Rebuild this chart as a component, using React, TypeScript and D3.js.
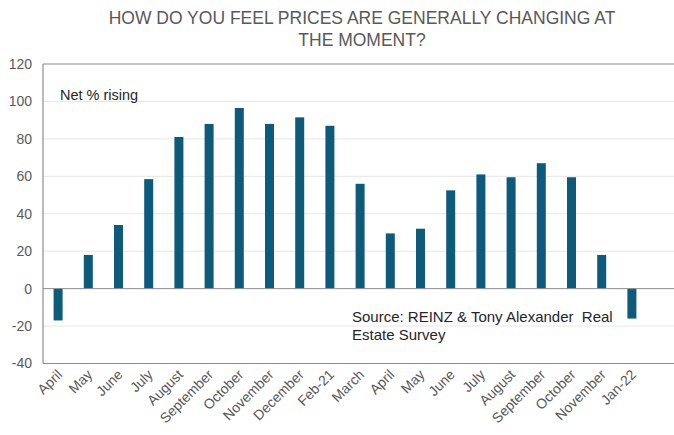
import React from "react";
import * as d3 from "d3";

const categories = ["April","May","June","July","August","September","October","November","December","Feb-21","March","April ","May ","June ","July ","August ","September ","October ","November ","Jan-22"];
const values = [-17, 18, 34, 58.5, 81, 88, 96.5, 88, 91.5, 87, 56, 29.5, 32, 52.5, 61, 59.5, 67, 59.5, 18, -16];
const yTicks = [-40, -20, 0, 20, 40, 60, 80, 100, 120];
const titleLines = ["HOW DO YOU FEEL PRICES ARE GENERALLY CHANGING AT", "THE MOMENT?"];
const noteLabel = "Net % rising";
const sourceLines = ["Source: REINZ & Tony Alexander  Real", "Estate Survey"];

const W = 674, H = 435;
const left = 43, top = 64, bottom = 363.5;
const band = 30.2;

export default function App() {
  const x = d3.scaleBand<string>().domain(categories).range([left, left + band * categories.length]).paddingInner(0).paddingOuter(0);
  const y = d3.scaleLinear().domain([-40, 120]).range([bottom, top]);
  const bw = 9;
  const font = "Arial, 'Liberation Sans', sans-serif";
  return (
    <svg width={W} height={H} style={{ position: "absolute", left: 0, top: 0, background: "#fff" }} fontFamily={font}>
      <rect x={0} y={0} width={W} height={H} fill="#fff" />
      {titleLines.map((t, i) => (
        <text key={i} x={362} y={24 + i * 22} textAnchor="middle" fontSize={17.5} fill="#595959">{t}</text>
      ))}
      {yTicks.map((t) => (
        <g key={t}>
          {t !== 120 && t !== -40 && t !== 0 && (
            <line x1={left} x2={W} y1={y(t)} y2={y(t)} stroke="#e6e6e6" strokeWidth={1} />
          )}
          <text x={32} y={y(t)} dy="0.35em" textAnchor="end" fontSize={14} fill="#595959">{t}</text>
        </g>
      ))}
      <line x1={left} x2={W} y1={y(120)} y2={y(120)} stroke="#8c8c8c" strokeWidth={1.2} />
      <line x1={left} x2={W} y1={y(-40)} y2={y(-40)} stroke="#8c8c8c" strokeWidth={1.2} />
      <line x1={left} x2={left} y1={y(120)} y2={y(-40)} stroke="#8c8c8c" strokeWidth={1.2} />
      {values.map((v, i) => {
        const cx = (x(categories[i]) as number) + x.bandwidth() / 2;
        return (
          <rect key={i} x={cx - bw / 2} y={y(Math.max(0, v))} width={bw} height={Math.abs(y(v) - y(0))} fill="#0e5a7a" />
        );
      })}
      <line x1={left} x2={W} y1={y(0)} y2={y(0)} stroke="#8c8c8c" strokeWidth={1} />
      {categories.map((c, i) => {
        const cx = (x(c) as number) + x.bandwidth() / 2;
        return (
          <text key={i} transform={`translate(${cx + 5},${bottom + 12}) rotate(-45)`} textAnchor="end" fontSize={14} fill="#595959">{c.trim()}</text>
        );
      })}
      <text x={60} y={100} fontSize={14.5} fill="#262626">{noteLabel}</text>
      {sourceLines.map((t, i) => (
        <text key={i} x={352} y={322 + i * 18} fontSize={15} fill="#262626" style={{ whiteSpace: "pre" }}>{t}</text>
      ))}
    </svg>
  );
}
